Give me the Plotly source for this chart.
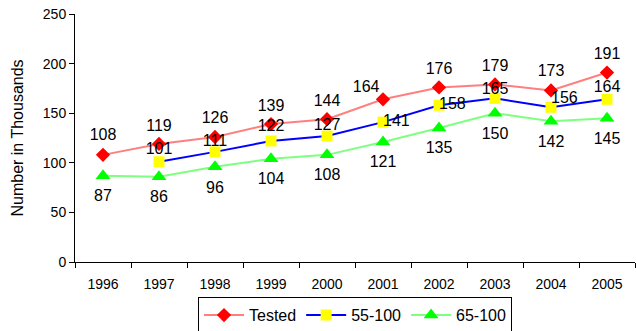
import plotly.graph_objects as go

years = ["1996", "1997", "1998", "1999", "2000", "2001", "2002", "2003", "2004", "2005"]
tested = [108, 119, 126, 139, 144, 164, 176, 179, 173, 191]
s55_100 = [None, 101, 111, 122, 127, 141, 158, 165, 156, 164]
s65_100 = [87, 86, 96, 104, 108, 121, 135, 150, 142, 145]

# label placement - styling only (position + spacer size controlling the gap)
tested_pos = ["top center"] * 5 + ["top left"] + ["top center"] * 4
tested_gap = [15, 13, 14, 13, 13, 4, 14, 14, 15, 14]
s55_pos = ["top center", "top center", "top center", "top center", "top center",
           "middle right", "middle right", "top center", "top right", "top center"]
s55_gap = [0, 5, 1, 8, 2, 0, 0, 0, 0, 3.5]
s65_pos = ["bottom center"] * 10
s65_gap = [19, 20, 21, 20, 20, 20, 19, 20, 20, 20]

FONT = "Liberation Sans, Arial, sans-serif"
LABEL_FONT = dict(family=FONT, size=16, color="#000000")

def labels(vals):
    return ["" if v is None else str(v) for v in vals]

fig = go.Figure()
fig.add_trace(go.Scatter(
    x=years, y=tested, name="Tested", mode="lines+markers",
    line=dict(color="#FF7F7F", width=2),
    marker=dict(symbol="diamond", size=11, color="#FF0000"),
))
fig.add_trace(go.Scatter(
    x=years, y=s55_100, name="55-100", mode="lines+markers",
    line=dict(color="#0000FF", width=2),
    marker=dict(symbol="square", size=11, color="#FFFF00"),
))
fig.add_trace(go.Scatter(
    x=years, y=s65_100, name="65-100", mode="lines+markers",
    line=dict(color="#7FFF7F", width=2),
    marker=dict(symbol="triangle-up", size=13, color="#00FF00"),
))

# data labels
for vals, pos, gap in ((tested, tested_pos, tested_gap),
                       (s55_100, s55_pos, s55_gap),
                       (s65_100, s65_pos, s65_gap)):
    fig.add_trace(go.Scatter(
        x=years, y=vals, mode="markers+text",
        text=labels(vals), textposition=pos, textfont=LABEL_FONT,
        marker=dict(size=gap, color="rgba(0,0,0,0)", line=dict(width=0)),
        showlegend=False, hoverinfo="skip",
    ))

fig.update_layout(
    width=636, height=331,
    margin=dict(l=75, r=1, t=14, b=69, autoexpand=False),
    paper_bgcolor="white", plot_bgcolor="white",
    font=dict(family=FONT, color="#000000"),
    showlegend=True,
    legend=dict(
        orientation="h", x=0.5, xanchor="center", y=-0.142, yanchor="top",
        bordercolor="#000000", borderwidth=1,
        font=dict(family=FONT, size=16, color="#000000"),
        itemwidth=40,
    ),
)
fig.update_xaxes(
    type="category", range=[-0.5, 9.5], tickson="boundaries",
    showline=True, linecolor="#000000", linewidth=1,
    ticks="outside", ticklen=5, tickcolor="#000000",
    showgrid=False, zeroline=False,
    tickfont=dict(family=FONT, size=14, color="#000000"),
    ticklabelstandoff=9,
)
fig.update_yaxes(
    range=[0, 250], tickvals=[0, 50, 100, 150, 200, 250],
    showline=True, linecolor="#000000", linewidth=1,
    ticks="outside", ticklen=5, tickcolor="#000000",
    showgrid=False, zeroline=False,
    tickfont=dict(family=FONT, size=14, color="#000000"),
    title=dict(text="Number in Thousands", font=dict(family=FONT, size=16, color="#000000")),
)

fig.write_html("out.html", config={"displayModeBar": False},
               post_script="document.body.style.margin='0';")
